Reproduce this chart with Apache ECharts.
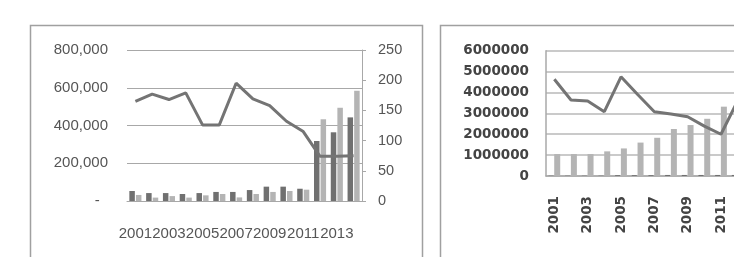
<!DOCTYPE html>
<html>
<head>
<meta charset="utf-8">
<script src="https://cdn.jsdelivr.net/npm/echarts@6/dist/echarts.min.js"></script>
<style>
html,body{margin:0;padding:0;background:#fff;}
#c{width:734px;height:257px;}
</style>
</head>
<body>
<div id="c"></div>
<script>
// ---- data ----
const leftYears = ['2001','2002','2003','2004','2005','2006','2007','2008','2009','2010','2011','2012','2013','2014'];
const leftDark  = [53000, 42000, 42000, 37000, 42000, 48000, 48000, 58000, 76000, 76000, 65000, 318000, 364000, 443000];
const leftLight = [32000, 18000, 26000, 18000, 30000, 37000, 19000, 37000, 48000, 53000, 60000, 433000, 494000, 584000];
const leftLine  = [165, 177, 168, 179, 126, 126, 195, 169, 158, 132, 115, 74, 74, 75];
const leftTicksMain = [0, 200000, 400000, 600000, 800000];
const leftTicksRight = [0, 50, 100, 150, 200, 250];

const rightYears = ['2001','2002','2003','2004','2005','2006','2007','2008','2009','2010','2011','2012'];
const rightDark  = [15000, 15000, 15000, 15000, 40000, 40000, 40000, 50000, 50000, 50000, 50000, 50000];
const rightLight = [1050000, 1050000, 1050000, 1180000, 1320000, 1600000, 1830000, 2250000, 2440000, 2740000, 3320000, 3600000];
const rightLine  = [4630000, 3640000, 3590000, 3080000, 4750000, 3900000, 3080000, 2970000, 2840000, 2390000, 2000000, 3600000];
const rightTicks = [0, 1000000, 2000000, 3000000, 4000000, 5000000, 6000000];

const DARK = '#707070', LIGHT = '#b4b4b4', LINE = '#747474', GRID = '#a8a8a8';
const fontL = 'Liberation Sans', fontR = 'DejaVu Sans';

function fmtThousands(v){
  if (v === 0) return '-  ';
  return String(v).replace(/\B(?=(\d{3})+(?!\d))/g, ',');
}

const chart = echarts.init(document.getElementById('c'), null, {renderer:'canvas'});
chart.setOption({
  animation: false,
  backgroundColor: '#fff',
  graphic: [
    {type:'rect', shape:{x:30.5, y:25.5, width:392, height:260}, style:{fill:'none', stroke:'#a0a0a0', lineWidth:1.5}, z:-1},
    {type:'rect', shape:{x:440.5, y:25.5, width:320, height:260}, style:{fill:'none', stroke:'#a0a0a0', lineWidth:1.5}, z:-1}
  ],
  grid: [
    {left:127, top:50, width:235, height:151, outerBoundsMode:'none', containLabel:false},
    {left:546, top:50.7, width:200, height:125.3, outerBoundsMode:'none', containLabel:false}
  ],
  xAxis: [
    {type:'category', gridIndex:0, data:leftYears,
     axisLine:{show:true, lineStyle:{color:GRID, width:1}},
     axisTick:{show:false},
     axisLabel:{interval:1, margin:25, fontFamily:fontL, fontSize:15, color:'#555'}},
    {type:'category', gridIndex:1, data:rightYears,
     axisLine:{show:true, lineStyle:{color:GRID, width:1.5}},
     axisTick:{show:false},
     axisLabel:{interval:1, rotate:90, margin:20, fontFamily:fontR, fontWeight:'bold', fontSize:13.5, color:'#444'}}
  ],
  yAxis: [
    {type:'value', gridIndex:0, min:leftTicksMain[0], max:leftTicksMain[leftTicksMain.length-1], interval:200000,
     axisLine:{show:false}, axisTick:{show:false},
     splitLine:{lineStyle:{color:GRID, width:1}},
     axisLabel:{margin:19, fontFamily:fontL, fontSize:15, color:'#555', formatter:fmtThousands}},
    {type:'value', gridIndex:0, position:'right', min:leftTicksRight[0], max:leftTicksRight[leftTicksRight.length-1], interval:50,
     axisLine:{show:true, lineStyle:{color:GRID, width:1}},
     axisTick:{show:true, inside:false, length:4, lineStyle:{color:GRID}},
     splitLine:{show:false},
     axisLabel:{margin:16, fontFamily:fontL, fontSize:14.5, color:'#555'}},
    {type:'value', gridIndex:1, min:rightTicks[0], max:rightTicks[rightTicks.length-1], interval:1000000,
     axisLine:{show:true, lineStyle:{color:GRID, width:1.5}}, axisTick:{show:false},
     splitLine:{lineStyle:{color:'#b8b8b8', width:1.5}},
     axisLabel:{margin:17, fontFamily:fontR, fontWeight:'bold', fontSize:13.5, color:'#444', formatter:function(v){return String(v);}}}
  ],
  series: [
    {type:'bar', xAxisIndex:0, yAxisIndex:0, data:leftDark, barWidth:5.5, barGap:'20%', itemStyle:{color:DARK}},
    {type:'bar', xAxisIndex:0, yAxisIndex:0, data:leftLight, barWidth:5.5, barGap:'20%', itemStyle:{color:LIGHT}},
    {type:'line', xAxisIndex:0, yAxisIndex:1, data:leftLine, symbol:'none', lineStyle:{color:LINE, width:3}, z:5},
    {type:'bar', xAxisIndex:1, yAxisIndex:2, data:rightDark, barWidth:5, barGap:'15%', itemStyle:{color:DARK}},
    {type:'bar', xAxisIndex:1, yAxisIndex:2, data:rightLight, barWidth:6, barGap:'15%', itemStyle:{color:LIGHT}},
    {type:'line', xAxisIndex:1, yAxisIndex:2, data:rightLine, symbol:'none', lineStyle:{color:LINE, width:3}, z:5}
  ]
});
</script>
</body>
</html>
